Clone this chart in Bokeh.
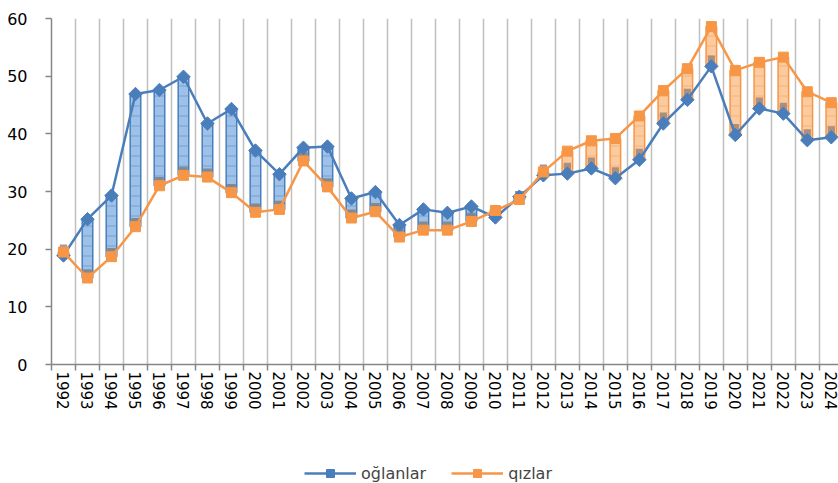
import numpy as np
from bokeh.plotting import figure
from bokeh.layouts import column
from bokeh.models import ColumnDataSource, FixedTicker, Legend, LegendItem, Range1d
from bokeh.embed import file_html
from bokeh.resources import INLINE

years = ["1992", "1993", "1994", "1995", "1996", "1997", "1998", "1999", "2000", "2001",
         "2002", "2003", "2004", "2005", "2006", "2007", "2008", "2009", "2010", "2011",
         "2012", "2013", "2014", "2015", "2016", "2017", "2018", "2019", "2020", "2021",
         "2022", "2023", "2024"]
oglanlar = [18.9, 25.2, 29.3, 46.9, 47.6, 49.9, 41.8, 44.3, 37.1, 33.0,
            37.6, 37.8, 28.8, 29.9, 24.2, 26.9, 26.3, 27.4, 25.5, 29.1,
            32.8, 33.1, 34.0, 32.3, 35.5, 41.8, 45.9, 51.7, 39.8, 44.4,
            43.5, 38.9, 39.4]
qizlar = [19.5, 15.0, 18.7, 23.9, 31.0, 32.8, 32.5, 29.8, 26.4, 26.9,
          35.3, 30.8, 25.4, 26.5, 22.1, 23.3, 23.3, 24.8, 26.7, 28.6,
          33.4, 37.0, 38.8, 39.2, 43.1, 47.5, 51.3, 58.6, 51.0, 52.4,
          53.3, 47.3, 45.4]
y_ticks = [0, 10, 20, 30, 40, 50, 60]

BLUE = "#4A7EBB"
ORANGE = "#F79646"
FONT = "DejaVu Sans"

n = len(years)
xc = [i + 0.5 for i in range(n)]

src = ColumnDataSource(dict(x=xc, o=oglanlar, q=qizlar))

down = [i for i in range(n) if oglanlar[i] > qizlar[i]]
up = [i for i in range(n) if qizlar[i] > oglanlar[i]]
down_src = ColumnDataSource(dict(
    x=[xc[i] for i in down],
    top=[oglanlar[i] for i in down],
    bottom=[qizlar[i] for i in down],
    band=[qizlar[i] + 1.5 for i in down]))
up_src = ColumnDataSource(dict(
    x=[xc[i] for i in up],
    top=[qizlar[i] for i in up],
    bottom=[oglanlar[i] for i in up],
    band=[oglanlar[i] + 1.9 for i in up]))

p = figure(width=838, height=440, output_backend="svg", toolbar_location=None,
           x_range=Range1d(0, 32.8), y_range=Range1d(0, 60),
           min_border_left=51, min_border_right=0, min_border_top=18,
           min_border_bottom=76)
p.outline_line_color = None
p.background_fill_color = "white"
p.border_fill_color = "white"

# up-down bars
p.vbar(x="x", top="top", bottom="bottom", width=0.44, source=down_src,
       fill_color="#9DC1E8", line_color=BLUE, line_width=1.5,
       hatch_pattern="horizontal_line", hatch_color=BLUE, hatch_alpha=0.5,
       hatch_scale=10, hatch_weight=1)
p.vbar(x="x", top="top", bottom="bottom", width=0.44, source=up_src,
       fill_color="#FBCB9F", line_color=ORANGE, line_width=1.5,
       hatch_pattern="horizontal_line", hatch_color=ORANGE, hatch_alpha=0.5,
       hatch_scale=10, hatch_weight=1)
p.vbar(x="x", top="band", bottom="bottom", width=0.36, source=down_src,
       fill_color="#7F7F7F", line_color=None, fill_alpha=0.85)
p.vbar(x="x", top="band", bottom="bottom", width=0.3, source=up_src,
       fill_color="#9C8579", line_color=None, fill_alpha=0.85)

# lines and markers
lo = p.line("x", "o", source=src, line_color=BLUE, line_width=2.5)
mo = p.scatter("x", "o", source=src, marker="square", angle=np.pi / 4, size=9.5,
               fill_color=BLUE, line_color=BLUE)
lq = p.line("x", "q", source=src, line_color=ORANGE, line_width=2.5)
mq = p.scatter("x", "q", source=src, marker="square", size=10,
               fill_color=ORANGE, line_color=ORANGE)

# axes
p.yaxis.ticker = FixedTicker(ticks=y_ticks)
p.yaxis.axis_line_color = "#868686"
p.yaxis.axis_line_width = 1.5
p.yaxis.major_tick_line_color = "#868686"
p.yaxis.major_tick_line_width = 1.5
p.yaxis.major_tick_out = 6
p.yaxis.major_tick_in = 0
p.yaxis.minor_tick_line_color = None
p.yaxis.major_label_text_font = FONT
p.yaxis.major_label_text_font_size = "16px"
p.yaxis.major_label_text_color = "black"
p.yaxis.major_label_standoff = 18

p.xaxis.ticker = FixedTicker(ticks=xc, minor_ticks=list(range(0, n + 1)))
p.xaxis.major_label_overrides = {x: y for x, y in zip(xc, years)}
p.xaxis.major_label_orientation = "vertical"
p.xaxis.axis_line_color = "#868686"
p.xaxis.axis_line_width = 1.5
p.xaxis.major_tick_line_color = None
p.xaxis.major_tick_out = 0
p.xaxis.major_tick_in = 0
p.xaxis.minor_tick_line_color = "#868686"
p.xaxis.minor_tick_line_width = 1.5
p.xaxis.minor_tick_out = 6
p.xaxis.minor_tick_in = 0
p.xaxis.major_label_text_font = FONT
p.xaxis.major_label_text_font_size = "15px"
p.xaxis.major_label_text_color = "black"
p.xaxis.major_label_standoff = 1

p.ygrid.grid_line_color = None
p.xgrid.ticker = FixedTicker(ticks=list(range(1, n + 1)))
p.xgrid.grid_line_color = "#BFBFBF"
p.xgrid.grid_line_width = 1.5

# legend strip below the chart (proxy glyphs sit outside the visible range)
lf = figure(width=838, height=43, output_backend="svg", toolbar_location=None,
            x_range=Range1d(0, 1), y_range=Range1d(0, 1),
            min_border_left=0, min_border_right=0, min_border_top=0,
            min_border_bottom=0)
lf.axis.visible = False
lf.grid.visible = False
lf.outline_line_color = None
proxy = ColumnDataSource(dict(x=[-5, -6], y=[-5, -6]))
llo = lf.line("x", "y", source=proxy, line_color=BLUE, line_width=2.5)
lmo = lf.scatter("x", "y", source=proxy, marker="square", angle=np.pi / 4, size=9.5,
                 fill_color=BLUE, line_color=BLUE)
llq = lf.line("x", "y", source=proxy, line_color=ORANGE, line_width=2.5)
lmq = lf.scatter("x", "y", source=proxy, marker="square", size=10,
                 fill_color=ORANGE, line_color=ORANGE)
legend = Legend(items=[LegendItem(label="oğlanlar", renderers=[llo, lmo]),
                       LegendItem(label="qızlar", renderers=[llq, lmq])],
                orientation="horizontal", location=(253, 0),
                label_text_font=FONT, label_text_font_size="16px",
                glyph_width=52, glyph_height=20, label_standoff=5, spacing=25,
                border_line_color=None, background_fill_alpha=0,
                padding=0, margin=0)
lf.add_layout(legend, "center")

open("out.html", "w").write(file_html(column(p, lf, spacing=0), INLINE))
